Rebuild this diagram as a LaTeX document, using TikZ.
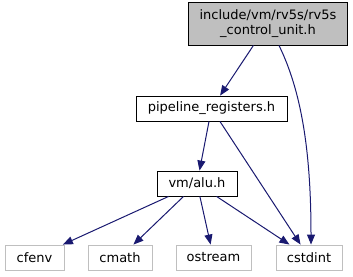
\documentclass[tikz,border=0pt]{standalone}
\usepackage{fontspec}
\setmainfont{DejaVu Sans}
\usepackage{xcolor}
\usetikzlibrary{arrows.meta}

\definecolor{edgeblue}{RGB}{25,25,112}
\definecolor{boxgray}{RGB}{191,191,191}

\begin{document}
\begin{tikzpicture}[
                x=1pt, y=-1pt,
                font=\fontsize{13}{15}\selectfont,
                file/.style={rectangle, draw=black, line width=0.9pt, inner sep=0pt, minimum height=25pt},
                current/.style={file, fill=boxgray},
                sysfile/.style={file, draw=boxgray},
                dep/.style={draw=edgeblue, line width=1pt, -{Triangle[length=10pt,width=8pt]}}
            ]
                \useasboundingbox (0,0) rectangle (353,276);

                % Header files
                \node[current, minimum width=159pt, minimum height=43pt, align=center] (ctrl) at (268,23.5)
                    {include/vm/rv5s/rv5s\\\_control\_unit.h};
                \node[file, minimum width=151pt] (pipe) at (211.5,108.5) {pipeline\_registers.h};
                \node[file, minimum width=80pt] (alu) at (197,183.5) {vm/alu.h};

                % System headers
                \node[sysfile, minimum width=59pt] (cfenv) at (34.5,257.5) {cfenv};
                \node[sysfile, minimum width=64pt] (cmath) at (120,257.5) {cmath};
                \node[sysfile, minimum width=75pt] (ostream) at (213.5,257.5) {ostream};
                \node[sysfile, minimum width=66pt] (cstdint) at (309,257.5) {cstdint};

                % Includes
                \draw[dep] (ctrl) -- (pipe);
                \draw[dep] ([xshift=11pt]ctrl.south) .. controls +(22,45) and +(0,-95) .. ([xshift=2pt]cstdint.north);
                \draw[dep] (pipe) -- (alu);
                \draw[dep] (pipe) -- (cstdint);
                \draw[dep] (alu) -- (cfenv);
                \draw[dep] (alu) -- (cmath);
                \draw[dep] (alu) -- (ostream);
                \draw[dep] (alu) -- (cstdint);
            \end{tikzpicture}
\end{document}
